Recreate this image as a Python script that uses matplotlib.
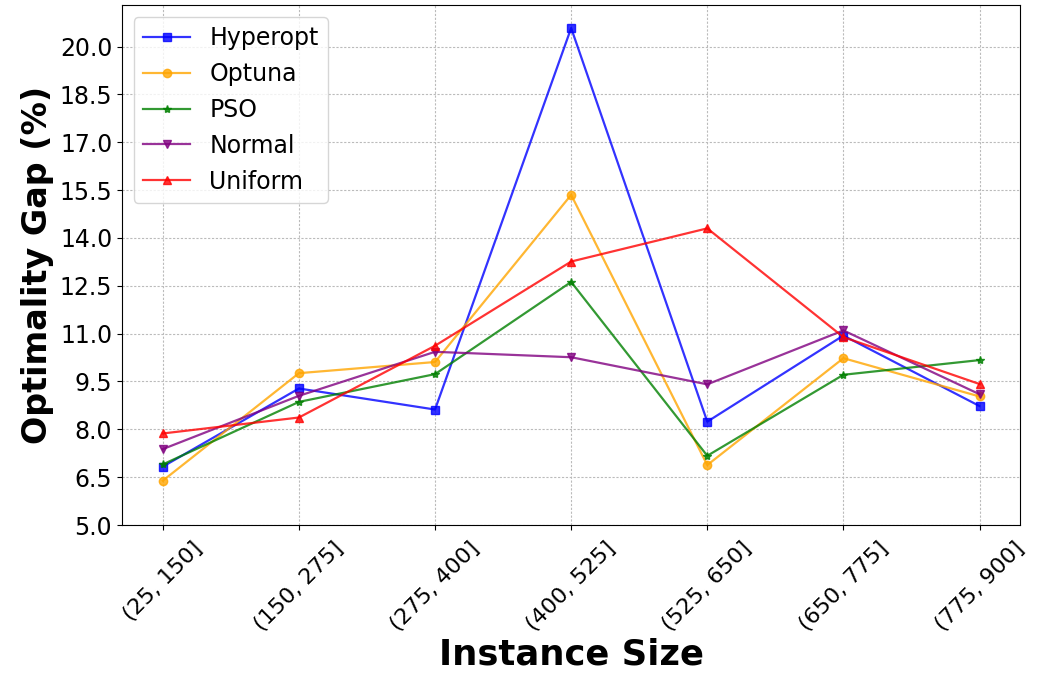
import matplotlib.pyplot as plt
import numpy as np

categories = ["(25, 150]", "(150, 275]", "(275, 400]", "(400, 525]",
              "(525, 650]", "(650, 775]", "(775, 900]"]

hyperopt = [6.83, 9.28, 8.62, 20.58, 8.24, 10.94, 8.73]
optuna = [6.39, 9.76, 10.11, 15.35, 6.88, 10.23, 9.03]
pso = [6.90, 8.86, 9.73, 12.62, 7.17, 9.71, 10.17]
normal = [7.38, 9.05, 10.43, 10.26, 9.41, 11.10, 9.10]
uniform = [7.87, 8.37, 10.62, 13.26, 14.30, 10.89, 9.42]

series = [
    ("Hyperopt", hyperopt, "blue", "s"),
    ("Optuna", optuna, "orange", "o"),
    ("PSO", pso, "green", "*"),
    ("Normal", normal, "purple", "v"),
    ("Uniform", uniform, "red", "^"),
]

fig = plt.figure(figsize=(10.38, 6.77), dpi=100)
ax = fig.add_axes([0.1175, 0.2245, 0.8655, 0.768])

x = np.arange(len(categories))
for name, vals, color, marker in series:
    ax.plot(x, vals, color=color, marker=marker, linewidth=1.6,
            markersize=6, alpha=0.8, label=name)

ax.set_xticks(x)
ax.set_xticklabels(categories, rotation=45, fontsize=16)
ax.tick_params(axis="x", pad=6)
yt = np.arange(5.0, 20.1, 1.5)
ax.set_yticks(yt)
ax.set_yticklabels([f"{v:.1f}" for v in yt], fontsize=17)
ax.set_ylim(5.0, 21.3)
ax.set_xlim(-0.3, 6.3)

ax.set_xlabel("Instance Size", fontsize=25.5, fontweight="bold", labelpad=2)
ax.set_ylabel("Optimality Gap (%)", fontsize=24, fontweight="bold")
ax.grid(True, linestyle=(0, (2, 1.5)), color="#bbbbbb", linewidth=0.8)
ax.legend(loc="upper left", fontsize=17)

fig.savefig("out.png", dpi=100)
